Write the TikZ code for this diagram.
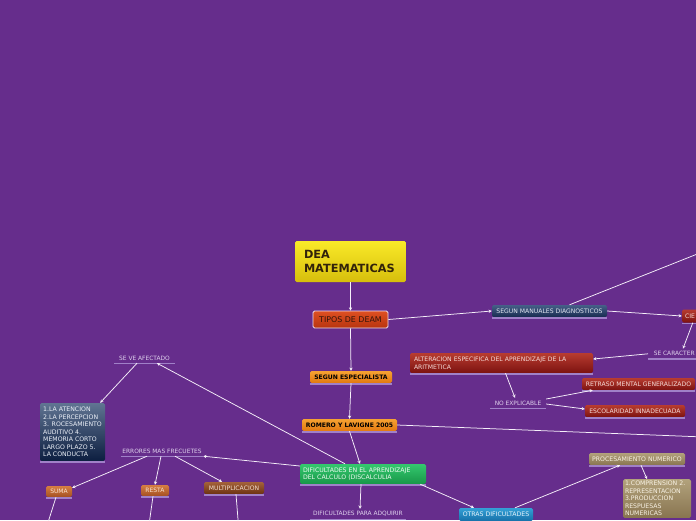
\documentclass[tikz,border=0pt]{standalone}
\usepackage{fontspec}
\setmainfont{DejaVu Sans}
\usetikzlibrary{arrows.meta}
\definecolor{bg}{RGB}{102,45,140}
\definecolor{uline}{RGB}{160,128,200}
\definecolor{lav}{RGB}{222,208,236}
\definecolor{wire}{RGB}{246,240,250}
\tikzset{
  box/.style={rounded corners=1.6pt, inner sep=0pt, draw=none, align=center},
  yellowbox/.style={box, top color={rgb,255:red,250;green,234;blue,40}, bottom color={rgb,255:red,214;green,190;blue,12}, text={rgb,255:red,50;green,35;blue,10}, font=\bfseries\fontsize{11.3pt}{14pt}\selectfont},
  tiposbox/.style={box, top color={rgb,255:red,222;green,80;blue,34}, bottom color={rgb,255:red,184;green,52;blue,14}, draw={rgb,255:red,236;green,222;blue,240}, line width=0.9pt, text={rgb,255:red,50;green,20;blue,10}, font=\fontsize{7.9pt}{9pt}\selectfont},
  orangebox/.style={box, top color={rgb,255:red,246;green,162;blue,50}, bottom color={rgb,255:red,226;green,120;blue,16}, text=black, font=\bfseries\fontsize{6.1pt}{7pt}\selectfont},
  greenbox/.style={box, top color={rgb,255:red,52;green,200;blue,110}, bottom color={rgb,255:red,24;green,150;blue,72}, text={rgb,255:red,236;green,250;blue,240}, font=\fontsize{6.2pt}{7.6pt}\selectfont},
  navybox/.style={box, top color={rgb,255:red,70;green,96;blue,136}, bottom color={rgb,255:red,24;green,44;blue,80}, text={rgb,255:red,226;green,230;blue,240}, font=\fontsize{6.1pt}{7pt}\selectfont},
  redbox/.style={box, top color={rgb,255:red,184;green,60;blue,48}, bottom color={rgb,255:red,124;green,18;blue,16}, text={rgb,255:red,246;green,220;blue,216}, font=\fontsize{6.1pt}{7.6pt}\selectfont},
  slatebox/.style={box, top color={rgb,255:red,96;green,116;blue,146}, bottom color={rgb,255:red,12;green,30;blue,64}, text={rgb,255:red,236;green,240;blue,248}, font=\fontsize{6.2pt}{7.5pt}\selectfont},
  copperbox/.style={box, top color={rgb,255:red,214;green,126;blue,66}, bottom color={rgb,255:red,164;green,80;blue,34}, text={rgb,255:red,250;green,228;blue,210}, font=\fontsize{6pt}{7pt}\selectfont},
  brownbox/.style={box, top color={rgb,255:red,164;green,98;blue,58}, bottom color={rgb,255:red,108;green,50;blue,18}, text={rgb,255:red,246;green,226;blue,210}, font=\fontsize{6.1pt}{7pt}\selectfont},
  bluebox/.style={box, top color={rgb,255:red,52;green,160;blue,214}, bottom color={rgb,255:red,22;green,112;blue,168}, text={rgb,255:red,230;green,244;blue,252}, font=\fontsize{6.2pt}{7pt}\selectfont},
  tanbox/.style={box, top color={rgb,255:red,178;green,162;blue,124}, bottom color={rgb,255:red,136;green,116;blue,80}, text={rgb,255:red,248;green,242;blue,228}, font=\fontsize{6.2pt}{7.5pt}\selectfont},
  plain/.style={inner sep=0pt, text=lav, font=\fontsize{5.9pt}{6.5pt}\selectfont, minimum height=10pt},
  wirearrow/.style={draw=wire, line width=0.75pt, -{Stealth[length=3.2pt,width=3.2pt]}},
  wireline/.style={draw=wire, line width=0.75pt},
  ul/.style={draw=uline, line width=1.4pt}
}
\begin{document}
\begin{tikzpicture}[x=1pt,y=-1pt]
\fill[bg] (0,0) rectangle (696,520);
\useasboundingbox (0,0) rectangle (696,520);
\begin{scope}
\clip (0,0) rectangle (696,520);
% boxes
\node[yellowbox, minimum width=111pt, minimum height=41pt, text width=93pt, align=left] (dea) at (350.5,261.5) {DEA\\MATEMATICAS};
\node[tiposbox, minimum width=75pt, minimum height=17pt] (tipos) at (350.5,319.5) {TIPOS DE DEAM};
\node[orangebox, minimum width=82pt, minimum height=12pt] (segesp) at (351,377) {SEGUN ESPECIALISTA};
\node[orangebox, minimum width=95pt, minimum height=12pt] (romero) at (349.5,425) {ROMERO Y LAVIGNE 2005};
\node[greenbox, minimum width=126pt, minimum height=20pt, text width=120pt, align=left] (dific) at (363,474) {DIFICULTADES EN EL APRENDIZAJE\\DEL CALCULO (DISCALCULIA};
\node[navybox, minimum width=115pt, minimum height=12pt] (manuales) at (549.5,311) {SEGUN MANUALES DIAGNOSTICOS};
\node[redbox, minimum width=40pt, minimum height=13pt, text width=34pt, align=left] (cie) at (702,316) {CIE};
\node[redbox, minimum width=183pt, minimum height=20pt, text width=175pt, align=left] (alter) at (501.5,363) {ALTERACION ESPECIFICA DEL APRENDIZAJE DE LA\\ARITMETICA};
\node[redbox, minimum width=113pt, minimum height=12pt] (retraso) at (638.5,384) {RETRASO MENTAL GENERALIZADO};
\node[redbox, minimum width=100pt, minimum height=12pt] (escol) at (635,411) {ESCOLARIDAD INNADECUADA};
\node[slatebox, minimum width=65pt, minimum height=58pt, align=left] (lista) at (72.5,432) {1.LA ATENCION\\2.LA PERCEPCION\\3. ROCESAMIENTO\\AUDITIVO 4.\\MEMORIA CORTO\\LARGO PLAZO 5.\\LA CONDUCTA};
\node[copperbox, minimum width=26pt, minimum height=11pt] (suma) at (59,491.5) {SUMA};
\node[copperbox, minimum width=28pt, minimum height=11pt] (resta) at (155,490.5) {RESTA};
\node[brownbox, minimum width=60pt, minimum height=12pt] (multi) at (234,488) {MULTIPLICACION};
\node[bluebox, minimum width=74pt, minimum height=13pt] (otras) at (496,514.5) {OTRAS DIFICULTADES};
\node[tanbox, minimum width=96pt, minimum height=12pt] (proc) at (637,459) {PROCESAMIENTO NUMERICO};
\node[tanbox, minimum width=68pt, inner ysep=2pt, text width=64pt, align=left, anchor=north] (compr) at (657,479) {1.COMPRENSION 2.\\REPRESENTACION\\3.PRODUCCION\\RESPUESAS\\NUMERICAS};
% box underlines
\foreach \n in {segesp,romero,dific,manuales,cie,alter,retraso,escol,lista,suma,resta,multi,proc}
  \draw[ul] ([yshift=-0.7pt]\n.south west) -- ([yshift=-0.7pt]\n.south east);
% text nodes
\node[plain, minimum width=52pt, anchor=south west] (secar) at (648,359) {SE CARACTER};
\node[plain, minimum width=56pt] (noexp) at (518,403) {NO EXPLICABLE};
\node[plain, minimum width=61pt] (seve) at (144.5,358) {SE VE AFECTADO};
\node[plain, minimum width=82pt] (errores) at (162,451) {ERRORES MAS FRECUETES};
\node[plain, minimum width=96pt] (dpa) at (358,514) {DIFICULTADES PARA ADQUIRIR};
\foreach \n in {secar,noexp,seve,errores,dpa}
  \draw[ul] (\n.south west) -- (\n.south east);
% off-canvas ends
\coordinate (offA) at (730,241);
\coordinate (offB) at (730,438);
\coordinate (offC) at (45,532);
\coordinate (offD) at (148,532);
\coordinate (offE) at (239,532);
% connectors
\draw[wirearrow] (dea.south) -- (tipos.north);
\draw[wirearrow] (tipos.east) -- (manuales.west);
\draw[wirearrow] (tipos.south) -- (segesp.north);
\draw[wirearrow] (segesp.south) -- (romero.north);
\draw[wirearrow] (romero.south) -- ([xshift=-3pt]dific.north);
\draw[wireline] (romero.east) -- (offB);
\draw[wireline] ([xshift=20pt]manuales.north) -- (offA);
\draw[wirearrow] (manuales.east) -- (cie.west);
\draw[wirearrow] ([xshift=11pt]cie.south west) -- ([xshift=35pt]secar.north west);
\draw[wirearrow] (secar.west) -- ([yshift=4pt]alter.east);
\draw[wirearrow] ([xshift=4pt]alter.south) -- ([xshift=-3pt]noexp.north);
\draw[wirearrow] ([yshift=4pt]noexp.east) -- ([xshift=11pt]retraso.south west);
\draw[wirearrow] ([yshift=-1pt]noexp.east) -- ([yshift=2pt]escol.west);
\draw[wirearrow] ([xshift=-18pt]dific.north) -- ([xshift=12.5pt]seve.south);
\draw[wirearrow] ([xshift=-7.5pt]seve.south) -- ([xshift=-5pt]lista.north east);
\draw[wirearrow] ([yshift=8pt]dific.west) -- (errores.south east);
\draw[wirearrow] ([xshift=-15pt]errores.south) -- ([yshift=-2pt]suma.north east);
\draw[wirearrow] ([xshift=-1pt]errores.south) -- (resta.north);
\draw[wirearrow] ([xshift=13pt]errores.south) -- ([xshift=-12pt]multi.north);
\draw[wireline] ([xshift=-3pt]suma.south) -- (offC);
\draw[wireline] ([xshift=-2pt]resta.south) -- (offD);
\draw[wireline] ([xshift=2pt]multi.south) -- (offE);
\draw[wirearrow] ([xshift=-2pt]dific.south) -- ([xshift=2pt]dpa.north);
\draw[wirearrow] ([xshift=-6pt]dific.south east) -- ([xshift=-22pt]otras.north);
\draw[wirearrow] ([xshift=19pt]otras.north) -- ([xshift=-17pt]proc.south);
\draw[wirearrow] ([xshift=4pt]proc.south) -- ([xshift=-10pt]compr.north);
\end{scope}
\end{tikzpicture}
\end{document}
